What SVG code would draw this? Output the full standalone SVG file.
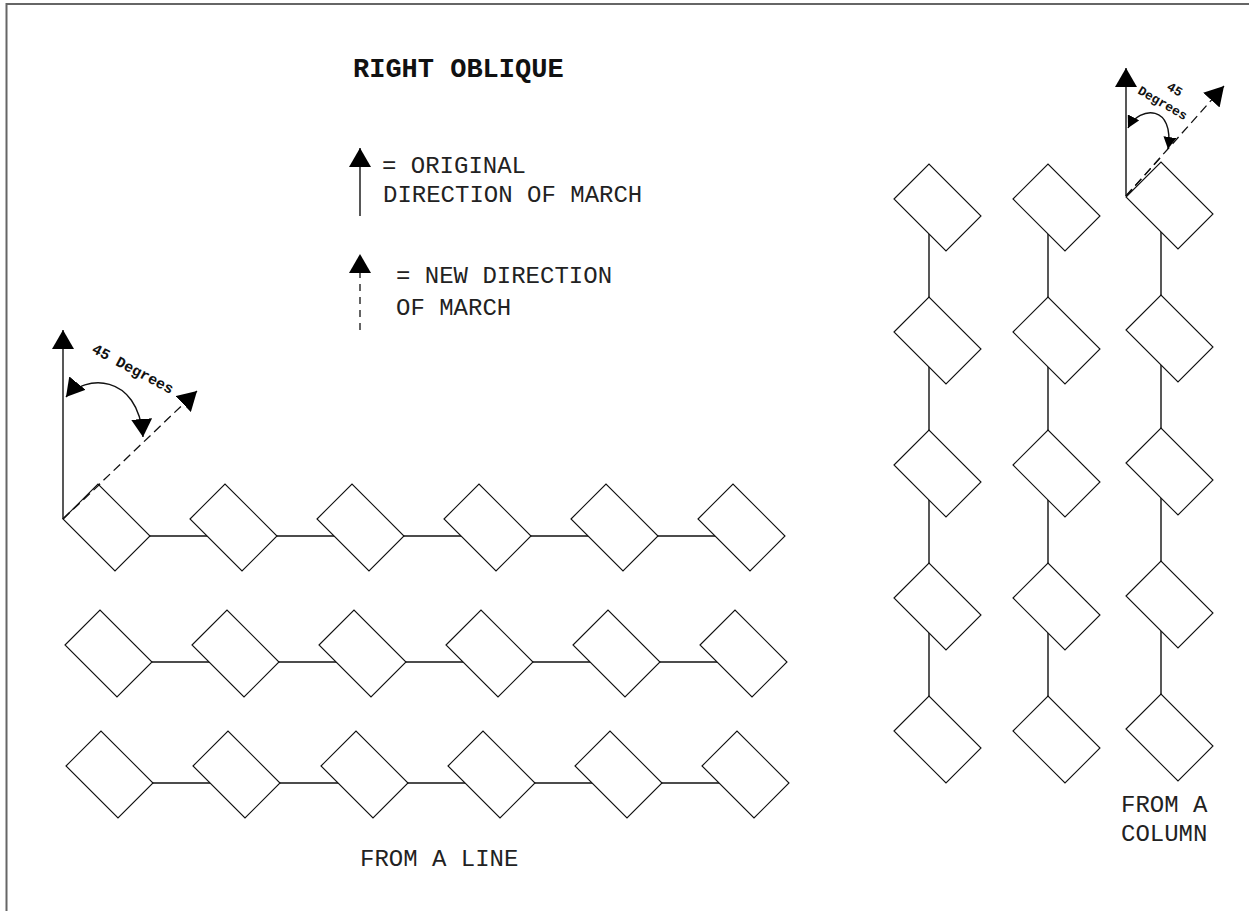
<svg xmlns="http://www.w3.org/2000/svg" xmlns:xlink="http://www.w3.org/1999/xlink" width="1249" height="911" viewBox="0 0 1249 911">
<style>
.txt{font-family:"Liberation Mono","Courier New",monospace;font-size:24px;fill:#222}
.title{font-family:"Liberation Mono","Courier New",monospace;font-size:27px;font-weight:bold;fill:#111}
.deg{font-family:"Liberation Mono","Courier New",monospace;font-weight:bold;fill:#111}
.dia{fill:#fff;stroke:#111;stroke-width:1.1}
.con{stroke:#111;stroke-width:1.4;fill:none}
.dash{stroke:#111;stroke-width:1.3;fill:none;stroke-dasharray:9 5}
.ldash{stroke:#111;stroke-width:1.3;fill:none;stroke-dasharray:7 6}
</style>
<defs>
<path id="dm" class="dia" d="M0,0 l35,-35 l52,52 l-35,35 z"/>
<marker id="ab" viewBox="0 0 19 22" refX="19" refY="11" markerWidth="19" markerHeight="22" markerUnits="userSpaceOnUse" orient="auto-start-reverse"><path d="M0,0 L19,11 L0,22 z" fill="#000"/></marker>
<marker id="am" viewBox="0 0 18 21" refX="18" refY="10.5" markerWidth="18" markerHeight="21" markerUnits="userSpaceOnUse" orient="auto-start-reverse"><path d="M0,0 L18,10.5 L0,21 z" fill="#000"/></marker>
<marker id="as" viewBox="0 0 12 13" refX="12" refY="6.5" markerWidth="12" markerHeight="13" markerUnits="userSpaceOnUse" orient="auto-start-reverse"><path d="M0,0 L12,6.5 L0,13 z" fill="#000"/></marker>
</defs>
<rect width="1249" height="911" fill="#fff"/>
<path d="M6.5,911 V4 H1249" fill="none" stroke="#666" stroke-width="2"/>

<g id="labels">
<text class="title" x="353" y="77">RIGHT OBLIQUE</text>
<text class="txt" x="382" y="173">= ORIGINAL</text>
<text class="txt" x="383" y="202">DIRECTION OF MARCH</text>
<text class="txt" x="396" y="283">= NEW DIRECTION</text>
<text class="txt" x="396" y="315">OF MARCH</text>
<text class="txt" x="360" y="866">FROM A LINE</text>
<text class="txt" x="1121" y="812">FROM A</text>
<text class="txt" x="1121" y="841">COLUMN</text>
<text class="deg" font-size="15" x="91" y="352" transform="rotate(28 91 352)">45 Degrees</text>
<text class="deg" font-size="13" x="1166" y="89" transform="rotate(30 1166 89)">45</text>
<text class="deg" font-size="13" x="1137" y="93" transform="rotate(30 1137 93)">Degrees</text>
</g>

<g id="connectors">
<line class="con" x1="150" y1="536" x2="785" y2="536"/>
<line class="con" x1="152" y1="662" x2="787" y2="662"/>
<line class="con" x1="153" y1="783" x2="789" y2="783"/>
<line class="con" x1="929" y1="164" x2="929" y2="696"/>
<line class="con" x1="1048" y1="164" x2="1048" y2="696"/>
<line class="con" x1="1161" y1="162" x2="1161" y2="694"/>
<line class="con" x1="360" y1="216" x2="360" y2="148" marker-end="url(#ab)"/>
<line class="ldash" x1="360" y1="330" x2="360" y2="254" marker-end="url(#ab)"/>
<line class="con" x1="63" y1="519" x2="63" y2="330" marker-end="url(#ab)"/>
<line class="dash" x1="63" y1="519" x2="197" y2="391" marker-end="url(#ab)"/>
<path class="con" d="M66,397 C84,375 138,372 143,437" marker-start="url(#am)" marker-end="url(#am)"/>
<line class="con" x1="1126" y1="196" x2="1126" y2="68" marker-end="url(#ab)"/>
<line class="dash" x1="1126" y1="196" x2="1224" y2="86" marker-end="url(#ab)"/>
<path class="con" d="M1128,128 C1140,105 1175,105 1168,149" marker-start="url(#as)" marker-end="url(#as)"/>
</g>

<g id="line-r1-1"><use href="#dm" x="63" y="519"/></g>
<g id="line-r1-2"><use href="#dm" x="190" y="519"/></g>
<g id="line-r1-3"><use href="#dm" x="317" y="519"/></g>
<g id="line-r1-4"><use href="#dm" x="444" y="519"/></g>
<g id="line-r1-5"><use href="#dm" x="571" y="519"/></g>
<g id="line-r1-6"><use href="#dm" x="698" y="519"/></g>

<g id="line-r2-1"><use href="#dm" x="65" y="645"/></g>
<g id="line-r2-2"><use href="#dm" x="192" y="645"/></g>
<g id="line-r2-3"><use href="#dm" x="319" y="645"/></g>
<g id="line-r2-4"><use href="#dm" x="446" y="645"/></g>
<g id="line-r2-5"><use href="#dm" x="573" y="645"/></g>
<g id="line-r2-6"><use href="#dm" x="700" y="645"/></g>

<g id="line-r3-1"><use href="#dm" x="66" y="766"/></g>
<g id="line-r3-2"><use href="#dm" x="193" y="766"/></g>
<g id="line-r3-3"><use href="#dm" x="321" y="766"/></g>
<g id="line-r3-4"><use href="#dm" x="448" y="766"/></g>
<g id="line-r3-5"><use href="#dm" x="575" y="766"/></g>
<g id="line-r3-6"><use href="#dm" x="702" y="766"/></g>

<g id="col1-1"><use href="#dm" x="894" y="199"/></g>
<g id="col1-2"><use href="#dm" x="894" y="332"/></g>
<g id="col1-3"><use href="#dm" x="894" y="465"/></g>
<g id="col1-4"><use href="#dm" x="894" y="598"/></g>
<g id="col1-5"><use href="#dm" x="894" y="731"/></g>

<g id="col2-1"><use href="#dm" x="1013" y="199"/></g>
<g id="col2-2"><use href="#dm" x="1013" y="332"/></g>
<g id="col2-3"><use href="#dm" x="1013" y="465"/></g>
<g id="col2-4"><use href="#dm" x="1013" y="598"/></g>
<g id="col2-5"><use href="#dm" x="1013" y="731"/></g>

<g id="col3-1"><use href="#dm" x="1126" y="197"/></g>
<g id="col3-2"><use href="#dm" x="1126" y="330"/></g>
<g id="col3-3"><use href="#dm" x="1126" y="463"/></g>
<g id="col3-4"><use href="#dm" x="1126" y="596"/></g>
<g id="col3-5"><use href="#dm" x="1126" y="729"/></g>

<g id="dash-overlay">
<line class="dash" x1="63" y1="519" x2="100" y2="484"/>
<line class="dash" x1="1126" y1="196" x2="1160" y2="158"/>
</g>
</svg>
